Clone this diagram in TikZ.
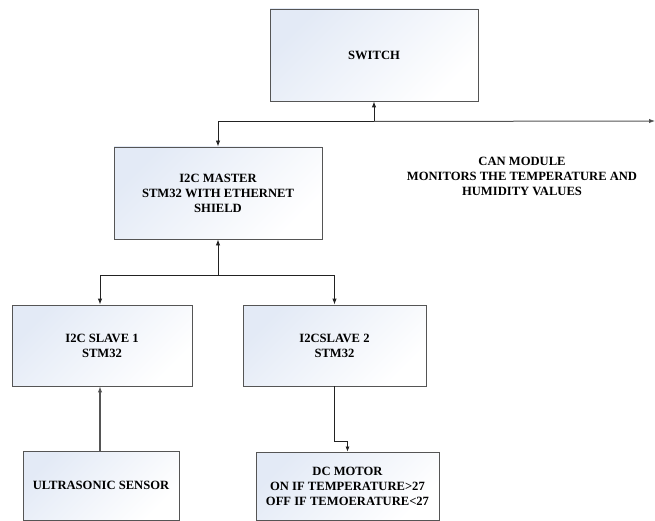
\documentclass[tikz,border=0pt]{standalone}
\usepackage{fontspec}
\setmainfont{Liberation Serif}
\usetikzlibrary{arrows.meta}
\definecolor{boxedge}{HTML}{555555}
\definecolor{boxtint}{HTML}{E3EAF6}
\definecolor{wire}{HTML}{222222}
\definecolor{greywire}{HTML}{555555}
\begin{document}
\begin{tikzpicture}[x=1pt,y=-1pt,
  blk/.style={draw=boxedge, line width=0.9pt, top color=boxtint, bottom color=white, shading angle=45,
    inner sep=0pt, align=center, font=\fontsize{12.6}{15}\selectfont\bfseries},
  conn/.style={draw=wire, line width=0.9pt},
  tip/.style={-{Latex[length=6pt,width=4.5pt]}},
  lbl/.style={align=center, font=\fontsize{12.6}{15}\selectfont\bfseries}]
\useasboundingbox (0,0) rectangle (655,521);
\node[blk, minimum width=208pt, minimum height=92pt] (switch) at (374,55) {SWITCH};
\node[blk, minimum width=208pt, minimum height=92pt] (master) at (218,193) {I2C MASTER\\STM32 WITH ETHERNET\\SHIELD};
\node[blk, minimum width=180pt, minimum height=81pt] (slave1) at (102,345.5) {I2C SLAVE 1\\STM32};
\node[blk, minimum width=183pt, minimum height=81pt] (slave2) at (334.5,345.5) {I2CSLAVE 2\\STM32};
\node[blk, minimum width=156pt, minimum height=69pt] (ultra) at (101,485.5) {ULTRASONIC SENSOR};
\node[blk, minimum width=183pt, minimum height=68pt] (motor) at (347.5,486) {DC MOTOR\\ON IF TEMPERATURE>27\\OFF IF TEMOERATURE<27};
\node[lbl] (can) at (522,176.5) {CAN MODULE\\MONITORS THE TEMPERATURE AND\\HUMIDITY VALUES};
\coordinate (jtop) at (374,121.5);
\coordinate (canend) at (655,121);
\coordinate (jmid) at (218,275);
% switch <-> master
\draw[conn, {Latex[length=6pt,width=4.5pt]}-{Latex[length=6pt,width=4.5pt]}] (master.north) |- (jtop) -- (switch.south -| jtop);
% to CAN module
\draw[draw=greywire, line width=1pt, -{Latex[length=6pt,width=4.5pt,fill=black]}] (jtop) -- (canend);
% master <- slaves
\draw[conn, tip] (jmid) -- (master.south);
\draw[conn, tip] (jmid) -| ([xshift=-2pt]slave1.north);
\draw[conn, tip] (jmid) -| (slave2.north);
% ultrasonic -> slave1
\draw[draw=greywire, line width=1.1pt, -{Latex[length=6pt,width=4.5pt,fill=black]}] ([xshift=-1pt]ultra.north) -- ([xshift=-2pt]slave1.south);
% slave2 -> motor
\draw[conn, line width=0.7pt, -{Latex[length=5pt,width=4pt]}] (slave2.south) -- ++(0,55) -| (motor.north);
\end{tikzpicture}
\end{document}
